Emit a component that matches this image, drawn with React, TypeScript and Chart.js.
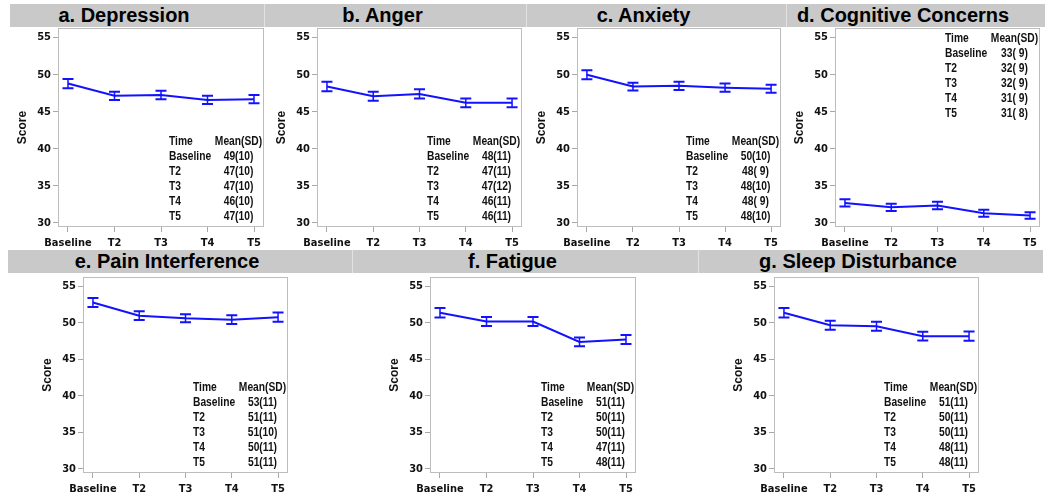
import React, { useEffect, useRef } from 'react';
import { Chart, registerables } from 'chart.js';

Chart.register(...registerables);

// ---------- data ----------
const categories = ['Baseline', 'T2', 'T3', 'T4', 'T5'];
const yTickValues = [30, 35, 40, 45, 50, 55];

const depressionMean = [48.8, 47.15, 47.25, 46.6, 46.7];
const depressionErr = [0.62, 0.55, 0.58, 0.55, 0.55];
const depressionTable = ['49(10)', '47(10)', '47(10)', '46(10)', '47(10)'];

const angerMean = [48.4, 47.1, 47.4, 46.2, 46.2];
const angerErr = [0.65, 0.6, 0.62, 0.58, 0.58];
const angerTable = ['48(11)', '47(11)', '47(12)', '46(11)', '46(11)'];

const anxietyMean = [50.0, 48.4, 48.5, 48.25, 48.1];
const anxietyErr = [0.6, 0.52, 0.55, 0.55, 0.55];
const anxietyTable = ['50(10)', '48( 9)', '48(10)', '48( 9)', '48(10)'];

const cognitiveMean = [32.7, 32.1, 32.35, 31.3, 31.0];
const cognitiveErr = [0.5, 0.48, 0.5, 0.48, 0.45];
const cognitiveTable = ['33( 9)', '32( 9)', '32( 9)', '31( 9)', '31( 8)'];

const painMean = [52.8, 51.0, 50.65, 50.45, 50.8];
const painErr = [0.62, 0.6, 0.55, 0.6, 0.62];
const painTable = ['53(11)', '51(11)', '51(10)', '50(11)', '51(11)'];

const fatigueMean = [51.4, 50.2, 50.2, 47.4, 47.75];
const fatigueErr = [0.65, 0.62, 0.62, 0.6, 0.62];
const fatigueTable = ['51(11)', '50(11)', '50(11)', '47(11)', '48(11)'];

const sleepMean = [51.4, 49.7, 49.55, 48.2, 48.2];
const sleepErr = [0.65, 0.62, 0.62, 0.6, 0.62];
const sleepTable = ['51(11)', '50(11)', '50(11)', '48(11)', '48(11)'];

const titles = [
  'a. Depression',
  'b. Anger',
  'c. Anxiety',
  'd. Cognitive Concerns',
  'e. Pain Interference',
  'f. Fatigue',
  'g. Sleep Disturbance',
];

// ---------- style / layout ----------
const BLUE = 'rgb(18,18,255)';
const GRID = '#a8a8a8';
const BOX = '#bdbdbd';
const TEXT = '#111';
const CONDENSED = '"DejaVu Sans Condensed", "DejaVu Sans", sans-serif';
const SANS = '"Liberation Sans", Arial, sans-serif';
const NARROW_SCALE = 0.82;

const PAD_LEFT = 58;
const PAD_TOP = 10;
const PAD_RIGHT = 6;
const X_AXIS_H = 30;

type Box = { l: number; t: number; r: number; b: number };
type Bar = { x: number; y: number; w: number; h: number };
type Panel = {
  title: string;
  mean: number[];
  err: number[];
  table: string[];
  tableTop: boolean;
  box: Box;
  bar: Bar;
};

const panels: Panel[] = [
  { title: titles[0], mean: depressionMean, err: depressionErr, table: depressionTable, tableTop: false,
    box: { l: 58, t: 28, r: 264, b: 227 }, bar: { x: 10, y: 4, w: 254, h: 23 } },
  { title: titles[1], mean: angerMean, err: angerErr, table: angerTable, tableTop: false,
    box: { l: 317, t: 28, r: 522, b: 227 }, bar: { x: 264, y: 4, w: 262, h: 23 } },
  { title: titles[2], mean: anxietyMean, err: anxietyErr, table: anxietyTable, tableTop: false,
    box: { l: 577, t: 28, r: 781, b: 227 }, bar: { x: 526, y: 4, w: 260, h: 23 } },
  { title: titles[3], mean: cognitiveMean, err: cognitiveErr, table: cognitiveTable, tableTop: true,
    box: { l: 835, t: 28, r: 1040, b: 227 }, bar: { x: 786, y: 4, w: 259, h: 23 } },
  { title: titles[4], mean: painMean, err: painErr, table: painTable, tableTop: false,
    box: { l: 83, t: 277, r: 288, b: 473 }, bar: { x: 8, y: 250, w: 344, h: 23 } },
  { title: titles[5], mean: fatigueMean, err: fatigueErr, table: fatigueTable, tableTop: false,
    box: { l: 430, t: 277, r: 636, b: 473 }, bar: { x: 352, y: 250, w: 346, h: 23 } },
  { title: titles[6], mean: sleepMean, err: sleepErr, table: sleepTable, tableTop: false,
    box: { l: 774, t: 277, r: 979, b: 473 }, bar: { x: 698, y: 250, w: 345, h: 23 } },
];

function narrowText(ctx: CanvasRenderingContext2D, text: string, x: number, y: number, align: 'left' | 'center') {
  ctx.save();
  ctx.translate(x, y);
  ctx.scale(NARROW_SCALE, 1);
  ctx.textAlign = align;
  ctx.fillText(text, 0, 0);
  ctx.restore();
}

function makePlugin(panel: Panel) {
  return {
    id: 'errTable',
    beforeDatasetsDraw(chart: any) {
      const { ctx, chartArea } = chart;
      ctx.save();
      ctx.strokeStyle = BOX;
      ctx.lineWidth = 1;
      ctx.strokeRect(chartArea.left + 0.5, chartArea.top + 0.5,
        chartArea.right - chartArea.left - 1, chartArea.bottom - chartArea.top - 1);
      ctx.restore();
    },
    afterDatasetsDraw(chart: any) {
      const { ctx, scales } = chart;
      const xs = scales.x;
      const ys = scales.y;
      ctx.save();
      ctx.strokeStyle = BLUE;
      panel.mean.forEach((m, i) => {
        const px = xs.getPixelForValue(i);
        const top = ys.getPixelForValue(m + panel.err[i]);
        const bot = ys.getPixelForValue(m - panel.err[i]);
        ctx.lineWidth = 1.5;
        ctx.beginPath();
        ctx.moveTo(px, top);
        ctx.lineTo(px, bot);
        ctx.stroke();
        ctx.lineWidth = 2;
        ctx.beginPath();
        ctx.moveTo(px - 5.5, top);
        ctx.lineTo(px + 5.5, top);
        ctx.moveTo(px - 5.5, bot);
        ctx.lineTo(px + 5.5, bot);
        ctx.stroke();
      });
      ctx.restore();
    },
    afterDraw(chart: any) {
      const { ctx, chartArea } = chart;
      ctx.save();
      ctx.fillStyle = TEXT;
      ctx.font = `bold 12.5px ${SANS}`;
      ctx.textBaseline = 'middle';
      const rows = [['Time', 'Mean(SD)'], ...categories.map((c, i) => [c, panel.table[i]])];
      const leftX = chartArea.right - 95;
      const valX = chartArea.right - 25.5;
      const rowH = 15;
      const firstY = panel.tableTop
        ? chartArea.top + 11
        : chartArea.bottom - 10.5 - rowH * (rows.length - 1);
      rows.forEach((r, i) => {
        const y = firstY + i * rowH;
        narrowText(ctx, r[0], leftX, y, 'left');
        narrowText(ctx, r[1], valX, y, 'center');
      });
      ctx.restore();
    },
  };
}

function PanelChart({ panel }: { panel: Panel }) {
  const ref = useRef<HTMLCanvasElement | null>(null);
  const w = panel.box.r - panel.box.l + PAD_LEFT + PAD_RIGHT;
  const h = panel.box.b - panel.box.t + PAD_TOP + X_AXIS_H;

  useEffect(() => {
    if (!ref.current) return;
    const tickFont = { family: CONDENSED, size: 11, weight: 'bold' as const };
    const chart = new Chart(ref.current, {
      type: 'line',
      data: {
        datasets: [
          {
            data: panel.mean.map((y, i) => ({ x: i, y })),
            borderColor: BLUE,
            borderWidth: 2,
            pointRadius: 0,
            tension: 0,
            fill: false,
          },
        ],
      },
      options: {
        responsive: false,
        animation: false,
        layout: { padding: { left: 0, top: PAD_TOP, right: PAD_RIGHT, bottom: 0 } },
        plugins: { legend: { display: false }, tooltip: { enabled: false }, title: { display: false } },
        scales: {
          x: {
            type: 'linear',
            min: -0.215,
            max: 4.215,
            afterBuildTicks: (s: any) => {
              s.ticks = categories.map((_, i) => ({ value: i }));
            },
            afterFit: (s: any) => {
              s.height = X_AXIS_H;
            },
            ticks: {
              callback: (v: any) => categories[Number(v)] ?? '',
              font: tickFont,
              color: TEXT,
              padding: 5,
              maxRotation: 0,
              autoSkip: false,
            },
            grid: { display: true, drawOnChartArea: false, drawTicks: true, tickLength: 5, color: GRID },
            border: { display: false },
          },
          y: {
            type: 'linear',
            min: 29.45,
            max: 56.3,
            afterBuildTicks: (s: any) => {
              s.ticks = yTickValues.map((v) => ({ value: v }));
            },
            afterFit: (s: any) => {
              s.width = PAD_LEFT;
            },
            ticks: { font: tickFont, color: TEXT, padding: 2 },
            grid: { display: true, drawOnChartArea: false, drawTicks: true, tickLength: 5, color: GRID },
            border: { display: false },
            title: {
              display: true,
              text: 'Score',
              color: TEXT,
              font: { family: SANS, size: 12, weight: 'bold' },
              padding: { top: 15, bottom: 0 },
            },
          },
        },
      } as any,
      plugins: [makePlugin(panel)],
    });
    return () => chart.destroy();
  }, [panel]);

  return (
    <canvas
      ref={ref}
      width={w}
      height={h}
      style={{
        position: 'absolute',
        left: panel.box.l - PAD_LEFT,
        top: panel.box.t - PAD_TOP,
        width: w,
        height: h,
      }}
    />
  );
}

export default function App() {
  return (
    <div
      style={{
        position: 'absolute',
        left: 0,
        top: 0,
        width: 1050,
        height: 503,
        background: '#fff',
        overflow: 'hidden',
        fontFamily: SANS,
      }}
    >
      {panels.map((p, i) => (
        <div
          key={'bar' + i}
          style={{
            position: 'absolute',
            left: p.bar.x,
            top: p.bar.y,
            width: p.bar.w,
            height: p.bar.h,
            background: '#c9c9c9',
            borderLeft: i === 0 || i === 4 ? 'none' : '1px solid #e2e2e2',
            boxSizing: 'border-box',
            paddingRight: 26,
            display: 'flex',
            alignItems: 'center',
            justifyContent: 'center',
            fontSize: 20,
            fontWeight: 'bold',
            color: '#000',
            whiteSpace: 'nowrap',
            lineHeight: '23px',
          }}
        >
          {p.title}
        </div>
      ))}
      {panels.map((p, i) => (
        <PanelChart key={'c' + i} panel={p} />
      ))}
    </div>
  );
}
